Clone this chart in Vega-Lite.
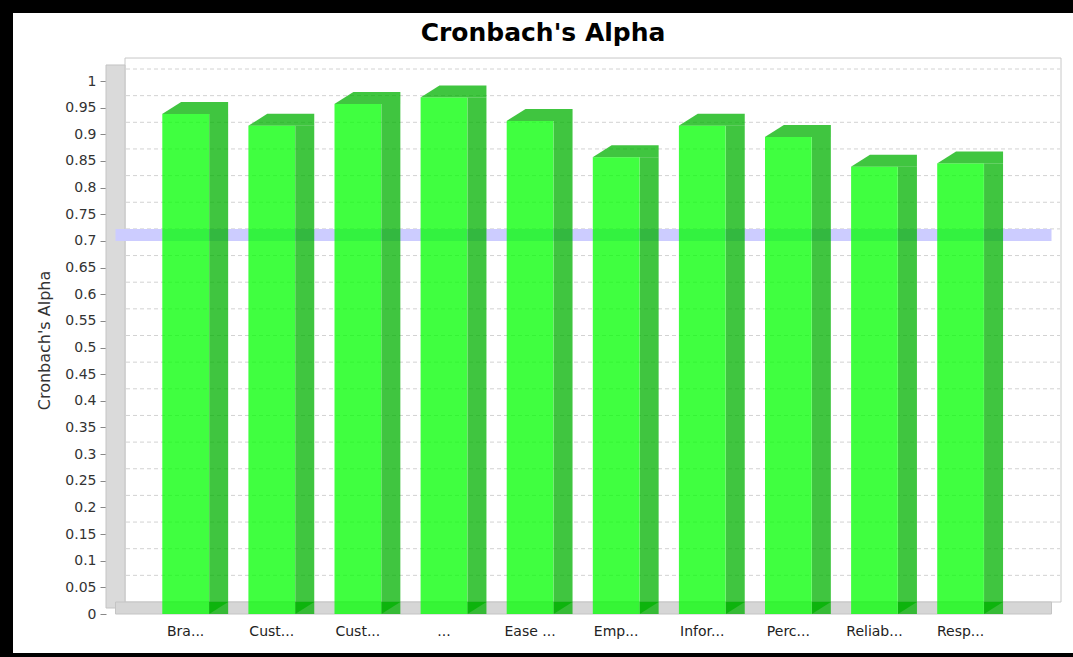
{
  "$schema": "https://vega.github.io/schema/vega-lite/v6.json",
  "autosize": {"type": "none"},
  "width": 1060,
  "height": 640,
  "padding": {"left": 13, "top": 13, "right": 0, "bottom": 4},
  "background": "black",
  "config": {
    "view": {"fill": "white", "stroke": null},
    "axisY": {
      "title": "Cronbach's Alpha",
      "titleFont": "DejaVu Sans",
      "titleFontSize": 16,
      "titleFontWeight": "normal",
      "titleColor": "#333333",
      "titleX": -54,
      "titleY": 327,
      "format": "~g",
      "offset": -93,
      "domain": false,
      "grid": false,
      "tickSize": 6,
      "tickColor": "#888888",
      "labelPadding": 4,
      "labelFont": "DejaVu Sans",
      "labelFontSize": 14,
      "labelColor": "#333333",
      "labelOverlap": false
    }
  },
  "data": {
    "values": [
      {"item": "Bra...", "alpha": 0.938},
      {"item": "Cust...", "alpha": 0.916},
      {"item": "Cust... ", "alpha": 0.957},
      {"item": "...", "alpha": 0.969},
      {"item": "Ease ...", "alpha": 0.925},
      {"item": "Emp...", "alpha": 0.857},
      {"item": "Infor...", "alpha": 0.916},
      {"item": "Perc...", "alpha": 0.895},
      {"item": "Reliab...", "alpha": 0.839},
      {"item": "Resp...", "alpha": 0.845}
    ]
  },
  "layer": [
    {
      "mark": {"type": "bar", "color": "#00ff00", "opacity": 0},
      "encoding": {
        "x": {
          "field": "item",
          "type": "nominal",
          "sort": null,
          "scale": {"range": [106.25, 1013.95], "paddingInner": 0.4576, "paddingOuter": 0.5, "align": 0.5},
          "axis": {
            "title": null,
            "orient": "bottom",
            "offset": -39,
            "domain": false,
            "ticks": false,
            "labelPadding": 10,
            "labelAngle": 0,
            "labelFont": "DejaVu Sans",
            "labelFontSize": 14,
            "labelColor": "#222222",
            "labelOverlap": false,
            "labelExpr": "trim(datum.label)"
          }
        },
        "y": {
          "field": "alpha",
          "type": "quantitative",
          "title": "Cronbach's Alpha",
          "scale": {"domain": [-0.07317, 1.12758], "nice": false, "zero": false},
          "axis": {"values": [0, 0.05, 0.1, 0.15, 0.2, 0.25, 0.3, 0.35, 0.4, 0.45, 0.5, 0.55, 0.6, 0.65, 0.7, 0.75, 0.8, 0.85, 0.9, 0.95, 1]}
        }
      }
    },
    {
      "data": {"values": [{}]},
      "mark": {"type": "rect", "fill": "white", "stroke": "#c8c8c8", "strokeWidth": 1, "yOffset": -12, "y2Offset": -12},
      "encoding": {
        "x": {"value": 112},
        "x2": {"value": 1048},
        "y": {"datum": 1.0206, "type": "quantitative", "title": "Cronbach's Alpha", "axis": {"values": [0, 0.05, 0.1, 0.15, 0.2, 0.25, 0.3, 0.35, 0.4, 0.45, 0.5, 0.55, 0.6, 0.65, 0.7, 0.75, 0.8, 0.85, 0.9, 0.95, 1]}},
        "y2": {"datum": 0}
      }
    },
    {
      "data": {"values": [{}]},
      "mark": {"type": "rect", "fill": "#dadada", "stroke": "#c4c4c4", "strokeWidth": 1, "yOffset": -6, "y2Offset": -6},
      "encoding": {
        "x": {"value": 93},
        "x2": {"value": 112},
        "y": {"datum": 1.0188, "type": "quantitative", "title": "Cronbach's Alpha", "axis": {"values": [0, 0.05, 0.1, 0.15, 0.2, 0.25, 0.3, 0.35, 0.4, 0.45, 0.5, 0.55, 0.6, 0.65, 0.7, 0.75, 0.8, 0.85, 0.9, 0.95, 1]}},
        "y2": {"datum": 0}
      }
    },
    {
      "data": {"values": [{}]},
      "mark": {"type": "rect", "fill": "#d6d6d6", "stroke": "#c4c4c4", "strokeWidth": 1, "y2Offset": -12},
      "encoding": {
        "x": {"value": 102.5},
        "x2": {"value": 1038.5},
        "y": {"datum": 0, "type": "quantitative", "title": "Cronbach's Alpha", "axis": {"values": [0, 0.05, 0.1, 0.15, 0.2, 0.25, 0.3, 0.35, 0.4, 0.45, 0.5, 0.55, 0.6, 0.65, 0.7, 0.75, 0.8, 0.85, 0.9, 0.95, 1]}},
        "y2": {"datum": 0}
      }
    },
    {
      "data": {"values": [
        {"t": 0.05}, {"t": 0.1}, {"t": 0.15}, {"t": 0.2}, {"t": 0.25}, {"t": 0.3}, {"t": 0.35},
        {"t": 0.4}, {"t": 0.45}, {"t": 0.5}, {"t": 0.55}, {"t": 0.6}, {"t": 0.65}, {"t": 0.7},
        {"t": 0.75}, {"t": 0.8}, {"t": 0.85}, {"t": 0.9}, {"t": 0.95}, {"t": 1}
      ]},
      "mark": {"type": "rule", "color": "#d2d2d2", "strokeWidth": 1, "strokeDash": [4, 3], "yOffset": -12},
      "encoding": {
        "x": {"value": 113},
        "x2": {"value": 1047},
        "y": {"field": "t", "type": "quantitative", "title": "Cronbach's Alpha", "axis": {"values": [0, 0.05, 0.1, 0.15, 0.2, 0.25, 0.3, 0.35, 0.4, 0.45, 0.5, 0.55, 0.6, 0.65, 0.7, 0.75, 0.8, 0.85, 0.9, 0.95, 1]}}
      }
    },
    {
      "data": {"values": [{}]},
      "mark": {"type": "rect", "fill": "#ccccff", "y2Offset": -12},
      "encoding": {
        "x": {"value": 102.5},
        "x2": {"value": 1038.5},
        "y": {"datum": 0.7, "type": "quantitative", "title": "Cronbach's Alpha", "axis": {"values": [0, 0.05, 0.1, 0.15, 0.2, 0.25, 0.3, 0.35, 0.4, 0.45, 0.5, 0.55, 0.6, 0.65, 0.7, 0.75, 0.8, 0.85, 0.9, 0.95, 1]}},
        "y2": {"datum": 0.7}
      }
    },
    {
      "mark": {"type": "bar", "width": 19, "xOffset": 33, "y2Offset": -12, "color": "#00b200", "opacity": 0.75},
      "encoding": {
        "x": {"field": "item", "type": "nominal", "sort": null},
        "y": {"field": "alpha", "type": "quantitative", "title": "Cronbach's Alpha", "axis": {"values": [0, 0.05, 0.1, 0.15, 0.2, 0.25, 0.3, 0.35, 0.4, 0.45, 0.5, 0.55, 0.6, 0.65, 0.7, 0.75, 0.8, 0.85, 0.9, 0.95, 1]}}
      }
    },
    {
      "mark": {"type": "point", "shape": "M-1,0.1818L-0.4242,-0.1818L1,-0.1818L1,0.1818Z", "size": 4356, "filled": true, "strokeWidth": 0, "xOffset": 9.5, "yOffset": -6, "color": "#00b200", "opacity": 0.75},
      "encoding": {
        "x": {"field": "item", "type": "nominal", "sort": null},
        "y": {"field": "alpha", "type": "quantitative", "title": "Cronbach's Alpha", "axis": {"values": [0, 0.05, 0.1, 0.15, 0.2, 0.25, 0.3, 0.35, 0.4, 0.45, 0.5, 0.55, 0.6, 0.65, 0.7, 0.75, 0.8, 0.85, 0.9, 0.95, 1]}}
      }
    },
    {
      "mark": {"type": "point", "shape": "M-1,-0.6316L1,-0.6316L-1,0.6316Z", "size": 361, "filled": true, "strokeWidth": 0, "xOffset": 33, "yOffset": -6, "color": "#00b200", "opacity": 0.75},
      "encoding": {
        "x": {"field": "item", "type": "nominal", "sort": null},
        "y": {"datum": 0, "type": "quantitative", "title": "Cronbach's Alpha", "axis": {"values": [0, 0.05, 0.1, 0.15, 0.2, 0.25, 0.3, 0.35, 0.4, 0.45, 0.5, 0.55, 0.6, 0.65, 0.7, 0.75, 0.8, 0.85, 0.9, 0.95, 1]}}
      }
    },
    {
      "mark": {"type": "bar", "color": "#00ff00", "opacity": 0.75},
      "encoding": {
        "x": {"field": "item", "type": "nominal", "sort": null},
        "y": {"field": "alpha", "type": "quantitative", "title": "Cronbach's Alpha", "axis": {"values": [0, 0.05, 0.1, 0.15, 0.2, 0.25, 0.3, 0.35, 0.4, 0.45, 0.5, 0.55, 0.6, 0.65, 0.7, 0.75, 0.8, 0.85, 0.9, 0.95, 1]}}
      }
    },
    {
      "data": {"values": [{"title": "Cronbach's Alpha"}]},
      "mark": {"type": "text", "font": "DejaVu Sans", "fontSize": 25, "fontWeight": "bold", "color": "black", "align": "center", "baseline": "alphabetic"},
      "encoding": {
        "text": {"field": "title"},
        "y": {"datum": 1.0755, "type": "quantitative", "title": "Cronbach's Alpha", "axis": {"values": [0, 0.05, 0.1, 0.15, 0.2, 0.25, 0.3, 0.35, 0.4, 0.45, 0.5, 0.55, 0.6, 0.65, 0.7, 0.75, 0.8, 0.85, 0.9, 0.95, 1]}}
      }
    }
  ]
}
